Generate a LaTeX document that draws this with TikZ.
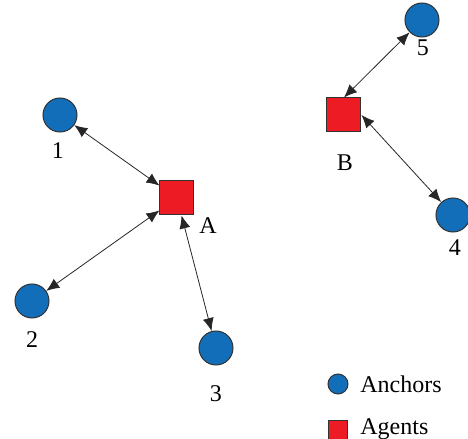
\documentclass[tikz,border=0pt]{standalone}
\usepackage{fontspec}
\setmainfont{Liberation Serif}
\usetikzlibrary{arrows.meta,positioning}

\definecolor{anchorblue}{RGB}{18,110,184}
\definecolor{agentred}{RGB}{237,28,36}

\tikzset{
  anchornode/.style={circle,draw=black!80,fill=anchorblue,line width=0.5pt,minimum size=17pt,inner sep=0pt},
  agentnode/.style={rectangle,draw=black!80,fill=agentred,line width=0.5pt,minimum size=17pt,inner sep=0pt},
  lbl/.style={font=\fontsize{12}{14}\selectfont,inner sep=0pt},
  link/.style={{Latex[length=6.5pt,width=5.5pt]}-{Latex[length=6.5pt,width=5.5pt]},line width=0.4pt,black!85}
}

\begin{document}
\begin{tikzpicture}[x=0.5pt,y=-0.5pt]
   \useasboundingbox (0,0) rectangle (468,439);

   %anchors
   \node[anchornode] (a1) at (60,115) {};
   \node[anchornode] (a2) at (32,301) {};
   \node[anchornode] (a3) at (216,348) {};
   \node[anchornode] (a4) at (453,215) {};
   \node[anchornode] (a5) at (422,20) {};

   \node[lbl] (l1) at (58,151) {1};
   \node[lbl] (l2) at (32,340) {2};
   \node[lbl] (l3) at (216,394) {3};
   \node[lbl] (l4) at (455,248) {4};
   \node[lbl] (l5) at (423,48) {5};

   %agents
   \node[agentnode] (gA) at (177,198) {};
   \node[agentnode] (gB) at (344,115) {};

   \node[lbl] (lA) at (208,226) {A};
   \node[lbl] (lB) at (345,163) {B};

   %legend
   \node[anchornode,minimum size=10pt] (legA) at (338,384) {};
   \node[agentnode,minimum size=9.5pt] (legG) at (338,430) {};
   \node[lbl,anchor=west] (tA) at (360,384) {Anchors};
   \node[lbl,anchor=west] (tG) at (360,429) {Agents};

  \path[link]
    (gA) edge (a1)
         edge (a2)
         edge (a3)
    (gB.north) edge (a5)
    (gB.east) edge (a4);
\end{tikzpicture}
\end{document}
